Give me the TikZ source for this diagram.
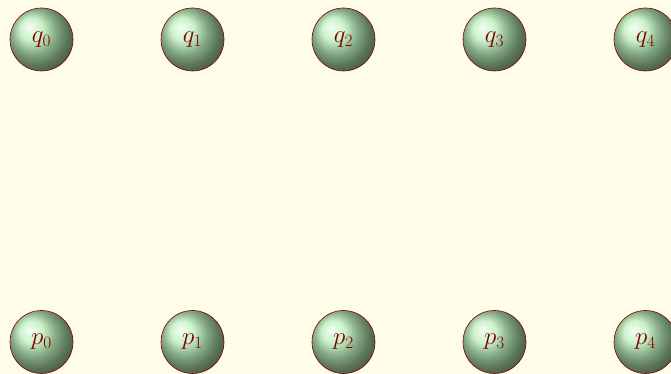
\documentclass[tikz,border=0pt]{standalone}
\usetikzlibrary{shadings}
\definecolor{bg}{RGB}{255,252,233}
\definecolor{edge}{RGB}{128,0,0}
\definecolor{ballc}{RGB}{185,238,185}
\begin{document}
\begin{tikzpicture}[x=1pt,y=1pt,
  state/.style={circle,draw=edge,semithick,shading=ball,ball color=ballc,
    minimum size=63pt,inner sep=0pt,text=edge,font=\fontsize{26}{30}\selectfont}]
\fill[bg] (0,0) rectangle (671,374);
\useasboundingbox (0,0) rectangle (671,374);
\foreach \i/\x in {0/41.5,1/192.5,2/343.5,3/494.5,4/645.5}{
  \node[state] (q\i) at (\x,334.5) {$q_{\i}$};
  \node[state] (p\i) at (\x,32) {$p_{\i}$};
}
\end{tikzpicture}
\end{document}
